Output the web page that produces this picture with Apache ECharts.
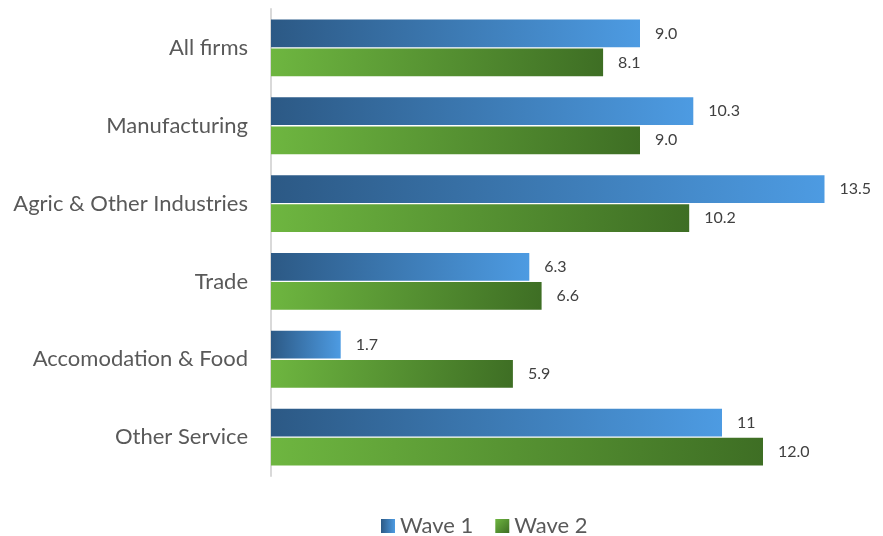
<!DOCTYPE html>
<html>
<head>
<meta charset="utf-8">
<script src="https://cdn.jsdelivr.net/npm/echarts@6/dist/echarts.min.js"></script>
<style>
  html, body { margin: 0; padding: 0; background: #fff; }
  #chart { width: 883px; height: 536px; }
</style>
</head>
<body>
<div id="chart"></div>
<script>
// data
const categories = ['All firms', 'Manufacturing', 'Agric & Other Industries', 'Trade', 'Accomodation & Food', 'Other Service'];
const wave1 = [9.0, 10.3, 13.5, 6.3, 1.7, 11];
const wave2 = [8.1, 9.0, 10.2, 6.6, 5.9, 12.0];
const wave1Text = ['9.0', '10.3', '13.5', '6.3', '1.7', '11'];
const wave2Text = ['8.1', '9.0', '10.2', '6.6', '5.9', '12.0'];

const FONT = 'Lato, "Open Sans", sans-serif';

const chart = echarts.init(document.getElementById('chart'));

const blue = new echarts.graphic.LinearGradient(0, 0, 1, 0, [
    { offset: 0, color: '#2c5985' },
    { offset: 1, color: '#4d9be2' }
]);
const green = new echarts.graphic.LinearGradient(0, 0, 1, 1, [
    { offset: 0, color: '#6eb640' },
    { offset: 1, color: '#3e6e24' }
]);

const label = (texts) => ({
    show: true,
    position: 'right',
    distance: 15,
    fontFamily: FONT,
    fontSize: 16,
    color: '#404040',
    formatter: p => texts[p.dataIndex]
});

chart.setOption({
    animation: false,
    backgroundColor: '#fff',
    grid: { left: 271, top: 9, width: 574, height: 467, containLabel: false },
    legend: {
        bottom: -6,
        left: 376,
        itemWidth: 14,
        itemHeight: 14,
        itemGap: 22,
        icon: 'rect',
        textStyle: { fontFamily: FONT, fontSize: 22, color: '#595959' },
        data: ['Wave 1', 'Wave 2']
    },
    xAxis: { type: 'value', min: 0, max: 14, show: false },
    yAxis: {
        type: 'category',
        inverse: true,
        data: categories,
        axisLine: { show: true, lineStyle: { color: '#d9d9d9', width: 2 } },
        axisTick: { show: false },
        axisLabel: { margin: 23, fontFamily: FONT, fontSize: 22, color: '#595959' }
    },
    series: [
        {
            name: 'Wave 1', type: 'bar', data: wave1,
            barCategoryGap: '27%', barGap: '5%',
            itemStyle: { color: blue },
            label: label(wave1Text)
        },
        {
            name: 'Wave 2', type: 'bar', data: wave2,
            itemStyle: { color: green },
            label: label(wave2Text)
        }
    ]
});
</script>
</body>
</html>
